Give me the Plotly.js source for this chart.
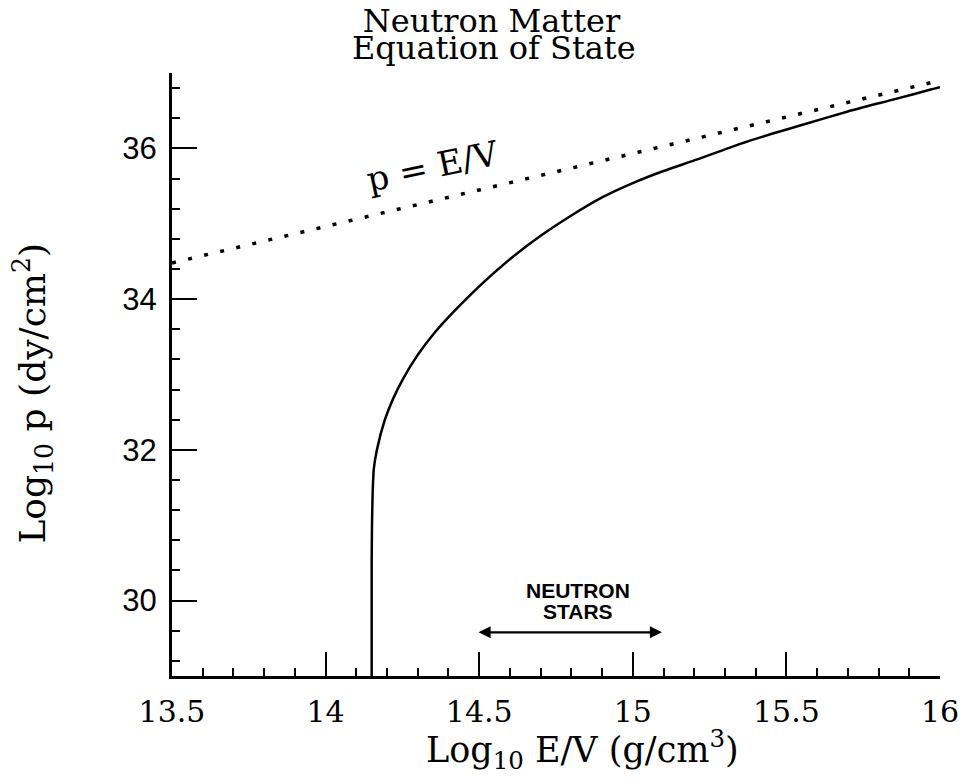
<!DOCTYPE html>
<html>
<head>
<meta charset="utf-8">
<script src="https://cdn.plot.ly/plotly-3.0.1.min.js"></script>
<style>html,body{margin:0;padding:0;background:#fff;}#chart{width:960px;height:778px;}</style>
</head>
<body>
<div id="chart"></div>
<script>
// Neutron matter equation of state (solid curve)
var eosLogDensity = [14.150, 14.150, 14.151, 14.153, 14.157, 14.167, 14.193, 14.220, 14.253, 14.300, 14.350, 14.400, 14.450, 14.500, 14.600, 14.700, 14.800, 14.900, 15.000, 15.100, 15.200, 15.350, 15.450, 15.550, 15.700, 15.850, 15.970, 16.000];
var eosLogPressure = [29.00, 30.50, 31.00, 31.40, 31.75, 32.00, 32.40, 32.68, 32.95, 33.26, 33.53, 33.76, 33.97, 34.17, 34.53, 34.84, 35.11, 35.35, 35.54, 35.70, 35.84, 36.06, 36.19, 36.31, 36.49, 36.65, 36.78, 36.81];
// causal limit p = E/V (dotted line)
var limitLogDensity = [13.50, 16.00];
var limitLogPressure = [34.48, 36.90];
// neutron star density range (arrow)
var nsRange = [14.493, 15.095];
var nsArrowY = 29.58;
var nsLabelX = 14.82;
var nsLabelY = [30.14, 29.86];
var nsLabels = ["NEUTRON", "STARS"];
// dotted-line label
var limitLabel = {text: "p = E/V", x: 14.35, y: 35.76};
// titles
var titleLines = ["Neutron Matter", "Equation of State"];
var xTitle = "Log<sub>10</sub> E/V (g/cm<sup>3</sup>)";
var yTitle = "Log<sub>10</sub> p (dy/cm<sup>2</sup>)";
// ticks
var xTickVals = [13.5, 14, 14.5, 15, 15.5, 16];
var xTickText = ["13.5", "14", "14.5", "15", "15.5", "16"];
var yTickVals = [30, 32, 34, 36];
var yTickText = ["30", "32", "34", "36"];

var serif = "DejaVu Serif";
var traces = [
  {x: limitLogDensity, y: limitLogPressure, mode: "lines", type: "scatter",
   line: {color: "#000", width: 3.5, dash: "4px,12.5px"}, hoverinfo: "skip"},
  {x: eosLogDensity, y: eosLogPressure, mode: "lines", type: "scatter",
   line: {color: "#000", width: 2.5, shape: "spline", smoothing: 0.6}, hoverinfo: "skip"}
];

var annotations = [
  {x: nsRange[1], y: nsArrowY, ax: nsRange[0], ay: nsArrowY, axref: "x", ayref: "y", xref: "x", yref: "y",
   text: "", showarrow: true, arrowside: "end+start", arrowhead: 2, startarrowhead: 2, arrowwidth: 2.2, arrowsize: 1.1, startarrowsize: 1.1, arrowcolor: "#000"},
  {x: nsLabelX, y: nsLabelY[0], xref: "x", yref: "y", text: nsLabels[0], showarrow: false,
   font: {family: "Liberation Sans", size: 21, color: "#000", weight: "bold"}},
  {x: nsLabelX, y: nsLabelY[1], xref: "x", yref: "y", text: nsLabels[1], showarrow: false,
   font: {family: "Liberation Sans", size: 21, color: "#000", weight: "bold"}},
  {x: limitLabel.x, y: limitLabel.y, xref: "x", yref: "y", text: limitLabel.text, showarrow: false, textangle: -12,
   font: {family: serif, size: 34, color: "#000"}},
  {x: 0.419, y: 1.076, xref: "paper", yref: "paper", text: titleLines[1], showarrow: false,
   font: {family: serif, size: 32, color: "#000"}},
  {x: 0.535, y: -0.168, xref: "paper", yref: "paper", showarrow: false,
   text: xTitle, font: {family: serif, size: 35, color: "#000"}},
  {x: -0.217, y: 0.469, xref: "paper", yref: "paper", showarrow: false, textangle: -90,
   text: yTitle, font: {family: serif, size: 36, color: "#000"}}
];

var layout = {
  width: 960, height: 778,
  margin: {l: 172, r: 20, t: 72.5, b: 101.5},
  paper_bgcolor: "#fff", plot_bgcolor: "#fff",
  showlegend: false,
  title: {text: titleLines[0], x: 0.512, xref: "container", xanchor: "center",
          y: 0.988, yref: "container", yanchor: "top",
          font: {family: serif, size: 32, color: "#000"}},
  xaxis: {range: [13.5, 16], showgrid: false, zeroline: false, showline: true, linecolor: "#000", linewidth: 3,
          ticks: "inside", ticklen: 24, tickwidth: 2, tickcolor: "#000",
          tickmode: "array", tickvals: xTickVals, ticktext: xTickText, ticklabelstandoff: 7,
          tickfont: {family: serif, size: 30, color: "#000"},
          minor: {dtick: 0.1, tick0: 13.5, ticks: "inside", ticklen: 8, tickwidth: 2, tickcolor: "#000", showgrid: false}},
  yaxis: {range: [29, 37], showgrid: false, zeroline: false, showline: true, linecolor: "#000", linewidth: 3,
          ticks: "inside", ticklen: 25, tickwidth: 2, tickcolor: "#000",
          tickmode: "array", tickvals: yTickVals, ticktext: yTickText, ticklabelstandoff: 6,
          tickfont: {family: "Liberation Sans", size: 31, color: "#000"},
          minor: {dtick: 0.4, tick0: 30, ticks: "inside", ticklen: 8, tickwidth: 2, tickcolor: "#000", showgrid: false}},
  annotations: annotations
};

Plotly.newPlot("chart", traces, layout, {staticPlot: true, displayModeBar: false});
</script>
</body>
</html>
